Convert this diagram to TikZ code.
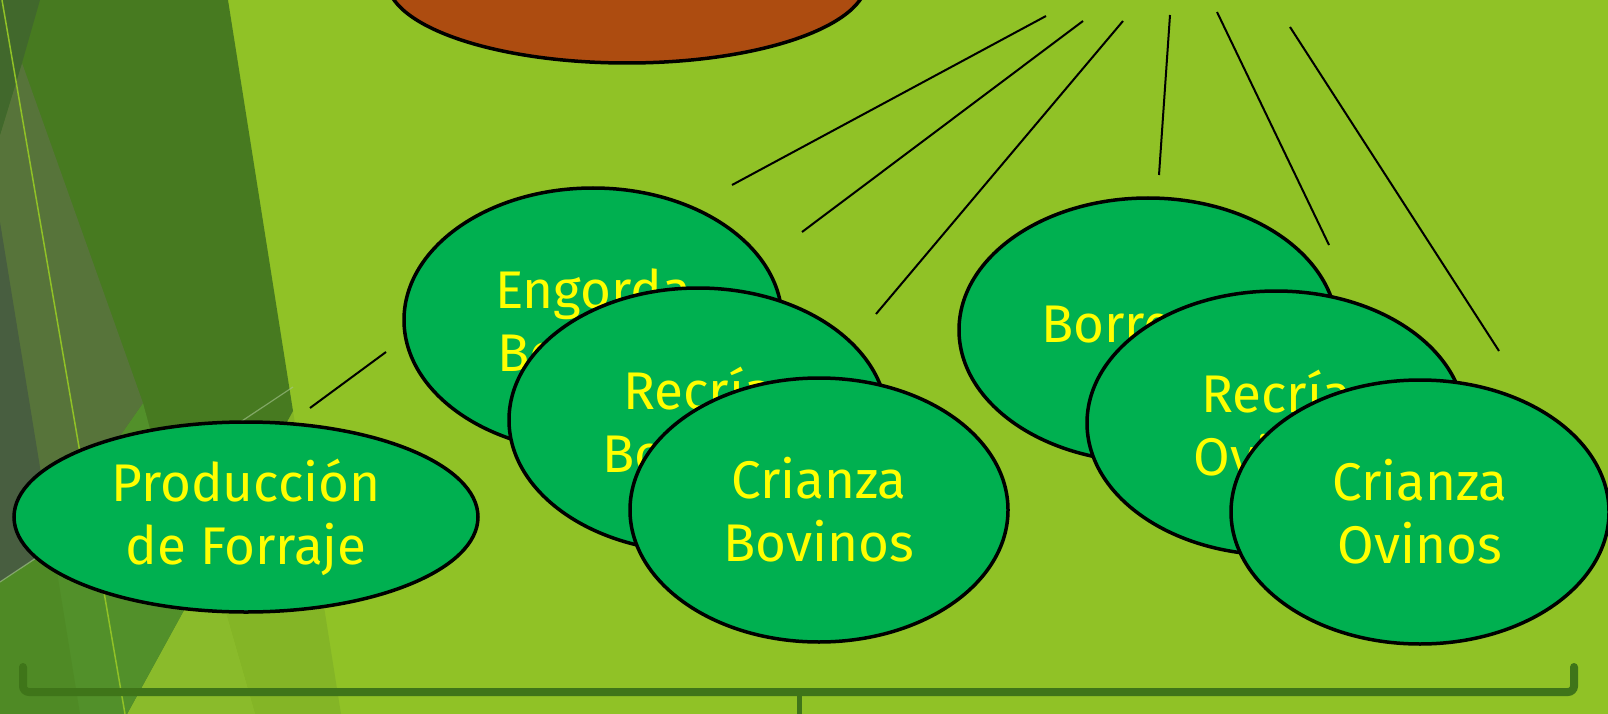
\documentclass[tikz,border=0pt]{standalone}
\usepackage{fontspec}
\setmainfont{Fira Sans}
\usepackage{tikz}
\usetikzlibrary{shapes.geometric}
\definecolor{limebg}{HTML}{90C226}
\definecolor{darkbg}{HTML}{477A20}
\definecolor{midbg}{HTML}{52902A}
\definecolor{lowbg}{HTML}{4F8A25}
\definecolor{olivebg}{HTML}{57743A}
\definecolor{greybg}{HTML}{485E40}
\definecolor{topbg}{HTML}{41682C}
\definecolor{bandA}{HTML}{8ABB2B}
\definecolor{bandB}{HTML}{84B526}
\definecolor{ovalgreen}{HTML}{00B050}
\definecolor{rootbrown}{HTML}{AD4C10}
\definecolor{bracegreen}{HTML}{3F7519}
\definecolor{txtyellow}{HTML}{FFFF00}

\begin{document}
\begin{tikzpicture}[x=1pt,y=-1pt,
  oval/.style={ellipse,draw=black,line width=3.5pt,fill=ovalgreen,text=txtyellow,align=center,
    inner sep=0pt,minimum width=378pt,minimum height=264pt,font=\fontsize{53}{63}\selectfont},
  ray/.style={draw=black,line width=2pt},
  bracebar/.style={draw=bracegreen,line width=8pt,rounded corners=6pt,line cap=round}]
\useasboundingbox (0,0) rectangle (1608,714);
\clip (0,0) rectangle (1608,714);
% background facets
\fill[limebg] (0,0) rectangle (1608,714);
\fill[bandB] (293,411) -- (211,561) -- (255,714) -- (341,714) -- cycle;
\fill[bandA] (211,561) -- (255,714) -- (127,714) -- cycle;
\fill[darkbg] (0,0) -- (228,0) -- (293,411) -- (127,714) -- (0,714) -- cycle;
\fill[midbg] (143,403) -- (194,592) -- (127,714) -- (0,714) -- (0,607) -- cycle;
\fill[olivebg] (0,135) -- (22,63) -- (143,403) -- (0,607) -- cycle;
\fill[greybg] (0,222) -- (53,547) -- (0,582) -- cycle;
\fill[lowbg] (0,582) -- (53,547) -- (80,714) -- (0,714) -- cycle;
\fill[topbg] (0,0) -- (40,0) -- (22,63) -- (0,135) -- cycle;
\draw[limebg,line width=1.5pt] (2,0) -- (125,714);
\draw[white!50!lowbg,line width=1.2pt,opacity=.6] (0,582) -- (293,387);

\node at (627,-20) [ellipse,draw=black,line width=3.5pt,fill=rootbrown,minimum width=480pt,minimum height=166pt] (Raiz) {};

\coordinate (Ray1a) at (1046,16);
\coordinate (Ray1b) at (732,185);
\coordinate (Ray2a) at (1083,21);
\coordinate (Ray2b) at (802,232);
\coordinate (Ray3a) at (1123,21);
\coordinate (Ray3b) at (876,314);
\coordinate (Ray4a) at (1170,15);
\coordinate (Ray4b) at (1159,175);
\coordinate (Ray5a) at (1217,12);
\coordinate (Ray5b) at (1329,245);
\coordinate (Ray6a) at (1290,27);
\coordinate (Ray6b) at (1499,351);
\coordinate (Ray7a) at (386,352);
\coordinate (Ray7b) at (310,408);
\draw[ray] (Ray1a) -- (Ray1b);
\draw[ray] (Ray2a) -- (Ray2b);
\draw[ray] (Ray3a) -- (Ray3b);
\draw[ray] (Ray4a) -- (Ray4b);
\draw[ray] (Ray5a) -- (Ray5b);
\draw[ray] (Ray6a) -- (Ray6b);
\draw[ray] (Ray7a) -- (Ray7b);

\node at (246,517) [oval,minimum width=464pt,minimum height=190pt] (Forraje) {Producción\\de Forraje};
\node at (593,320) [oval] (EngBov) {Engorda\\Bovinos};
\node at (698,420) [oval] (RecBov) {Recría\\Bovinos};
\node at (819,510) [oval] (CriBov) {Crianza\\Bovinos};
\node at (1148,330) [oval] (Borr) {Borregos};
\node at (1276,423) [oval] (RecOv) {Recría\\Ovinos};
\node at (1420,512) [oval] (CriOv) {Crianza\\Ovinos};

\draw[bracebar] (23,667) -- (23,692) -- (1574,692) -- (1574,667);
\draw[bracebar,line width=5pt] (799,692) -- (799,720);
\end{tikzpicture}
\end{document}
